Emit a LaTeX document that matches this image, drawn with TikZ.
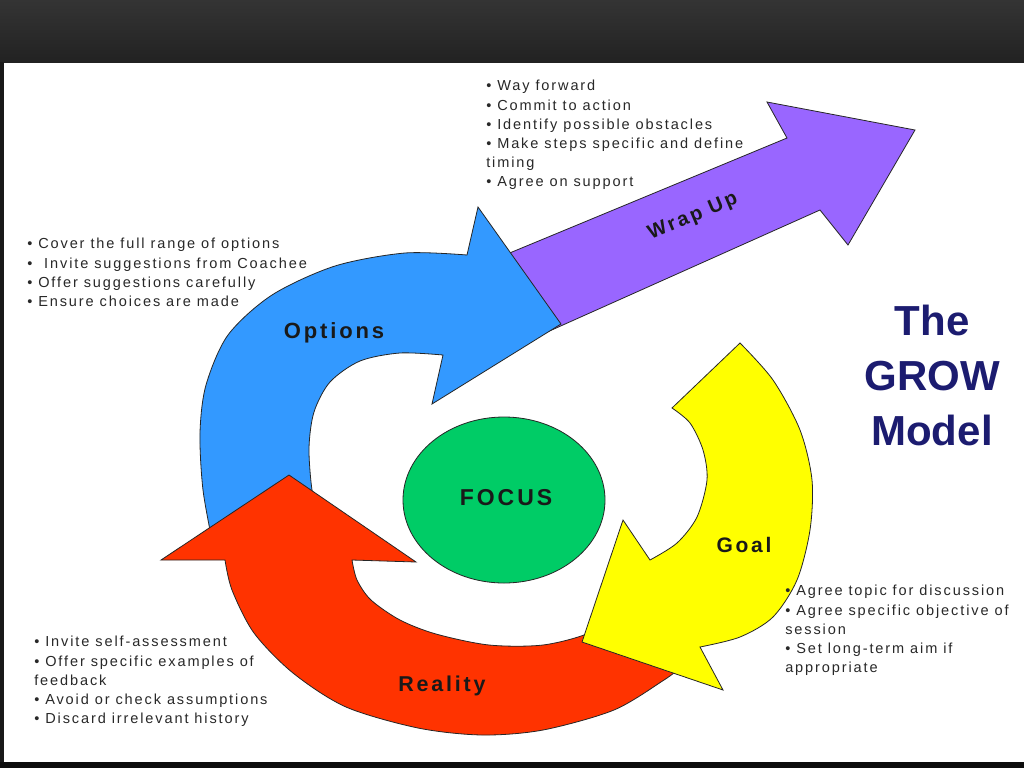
\documentclass[tikz,border=0pt]{standalone}
\usepackage{fontspec}
\setmainfont{Liberation Sans}
\newfontfamily\spaced[LetterSpace=13]{Liberation Sans}
\definecolor{optblue}{RGB}{51,153,255}
\definecolor{realred}{RGB}{255,51,0}
\definecolor{goalyel}{RGB}{255,255,0}
\definecolor{wrappur}{RGB}{153,102,255}
\definecolor{focgreen}{RGB}{0,204,102}
\definecolor{titlenavy}{RGB}{28,28,112}
\definecolor{bartop}{RGB}{52,52,52}
\definecolor{barbot}{RGB}{34,34,34}
\definecolor{bultext}{RGB}{40,40,40}
\begin{document}
\begin{tikzpicture}[x=0.75pt,y=-0.75pt,
  arrowshape/.style={draw=black!85, line width=0.6pt, line join=miter},
  bullets/.style={font=\spaced\fontsize{10.9pt}{14.4pt}\selectfont, text=bultext, align=left, anchor=north west, inner sep=0pt},
  stagelabel/.style={inner sep=0pt, text=black!90},
  optfont/.style={font=\spaced\bfseries\fontsize{16.5pt}{18pt}\selectfont},
  focfont/.style={font=\spaced\bfseries\fontsize{17.25pt}{19pt}\selectfont},
  goalfont/.style={font=\spaced\bfseries\fontsize{15.75pt}{18pt}\selectfont},
  realfont/.style={font=\spaced\bfseries\fontsize{16.1pt}{18pt}\selectfont},
  wrapfont/.style={font=\spaced\bfseries\fontsize{15pt}{17pt}\selectfont},
  titlefont/.style={font=\bfseries\fontsize{31.5pt}{41.25pt}\selectfont, align=center, inner sep=0pt}
]
\useasboundingbox (0,0) rectangle (1024,768);
\fill[white] (0,0) rectangle (1024,768);
\shade[top color=bartop, bottom color=barbot] (0,0) rectangle (1024,62);
\fill[black!90] (0,62) rectangle (4,768);
\fill[black!95] (0,762) rectangle (1024,768);

% Wrap Up arrow
\draw[arrowshape, fill=wrappur] (500,257) -- (787,138) -- (767,102) -- (915,130) -- (848,245) -- (820,210) -- (545,333) -- cycle;

% Options arrow
\draw[arrowshape, fill=optblue] plot[smooth] coordinates {(213,545) (203,490) (200,433) (206,385) (228,335) (272,295) (335,266) (405,253) (467,255)}
  -- (478,207) -- (561,324) -- (432,404) -- (443,355)
  -- plot[smooth] coordinates {(443,355) (400,353) (360,361) (330,382) (314,412) (309,448) (312,490) (318,505)} -- cycle;

% Reality arrow
\draw[arrowshape, fill=realred] (289,475) -- (416,562) -- (352,560)
  -- plot[smooth] coordinates {(352,560) (357,580) (371,600) (400,620) (436,634) (489,645) (543,645) (589,633) (618,612)}
  -- (680,668)
  -- plot[smooth] coordinates {(680,668) (664,680) (614,710) (543,730) (482,735) (418,728) (346,707) (293,673) (254,633) (232,590) (225,560)}
  -- (161,560) -- cycle;

% Goal arrow
\draw[arrowshape, fill=goalyel] plot[smooth] coordinates {(740,343) (773,380) (800,430) (812,480) (810,530) (797,580) (773,617) (740,637) (700,647)}
  -- (723,690) -- (582,642) -- (623,520) -- (650,560)
  -- plot[smooth] coordinates {(650,560) (677,543) (697,517) (707,480) (703,450) (690,423) (672,408)} -- cycle;

% Focus
\draw[arrowshape, fill=focgreen] (504,500) ellipse [x radius=101, y radius=83];

% Stage labels
\node[stagelabel, optfont] (optlabel) at (334,333) {Options};
\node[stagelabel, focfont] (foclabel) at (506,498) {FOCUS};
\node[stagelabel, goalfont] (goallabel) at (744,545) {Goal};
\node[stagelabel, realfont] (reallabel) at (442,686) {Reality};
\node[stagelabel, wrapfont, rotate=23] (wraplabel) at (693,217) {Wrap Up};

% Title
\node[titlefont, text=titlenavy] (title) at (932,375) {The\\GROW\\Model};

% Bullet lists
\node[bullets] (wrapbul) at (486,80) {• Way forward\\ • Commit to action\\ • Identify possible obstacles\\ • Make steps specific and define\\ timing\\ • Agree on support};
\node[bullets] (optbul) at (27,238) {• Cover the full range of options\\ •\ \ Invite suggestions from Coachee\\ • Offer suggestions carefully\\ • Ensure choices are made};
\node[bullets] (goalbul) at (785,585) {• Agree topic for discussion\\ • Agree specific objective of\\ session\\ • Set long-term aim if\\ appropriate};
\node[bullets] (realbul) at (34,636) {• Invite self-assessment\\ • Offer specific examples of\\ feedback\\ • Avoid or check assumptions\\ • Discard irrelevant history};
\end{tikzpicture}
\end{document}
